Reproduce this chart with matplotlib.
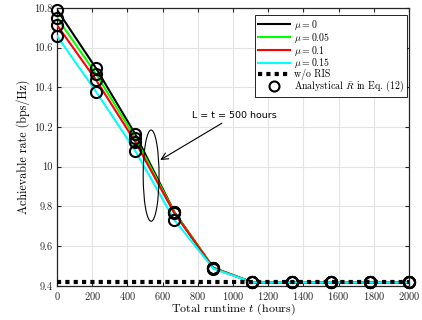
import matplotlib
matplotlib.use("Agg")
import matplotlib.pyplot as plt
from matplotlib.patches import Ellipse
import numpy as np

plt.rcParams['font.family'] = ['serif']
plt.rcParams['font.serif'] = ['cmr10', 'DejaVu Serif']
plt.rcParams['mathtext.fontset'] = 'cm'
plt.rcParams['axes.formatter.use_mathtext'] = True

# runtime samples (hours)
t_hours = [0, 222.2, 444.4, 666.7, 888.9, 1111.1, 1333.3, 1555.6, 1777.8, 2000]

# achievable rate for each aging factor mu
rate_mu0 = [10.791, 10.496, 10.165, 9.772, 9.491, 9.417, 9.417, 9.417, 9.417, 9.417]
rate_mu005 = [10.751, 10.467, 10.146, 9.770, 9.490, 9.417, 9.417, 9.417, 9.417, 9.417]
rate_mu01 = [10.714, 10.437, 10.126, 9.766, 9.489, 9.417, 9.417, 9.417, 9.417, 9.417]
rate_mu015 = [10.659, 10.378, 10.081, 9.732, 9.486, 9.417, 9.417, 9.417, 9.417, 9.417]

# baseline without RIS
rate_no_ris = 9.417

series = [
    (rate_mu0, 'black', r'$\mu = 0$'),
    (rate_mu005, '#00ff00', r'$\mu = 0.05$'),
    (rate_mu01, 'red', r'$\mu = 0.1$'),
    (rate_mu015, 'cyan', r'$\mu = 0.15$'),
]

fig = plt.figure(figsize=(4.22, 3.20), dpi=100)
ax = fig.add_axes([0.135, 0.107, 0.834, 0.868])

handles = []
for vals, color, label in series:
    h, = ax.plot(t_hours, vals, color=color, linewidth=1.5, label=label, zorder=3)
    handles.append(h)

h_base, = ax.plot([0, 2000], [rate_no_ris, rate_no_ris], color='black', linestyle=(0, (1, 1)),
                  linewidth=3, label='w/o RIS', zorder=4)
handles.append(h_base)

for vals, color, label in series:
    h_mark, = ax.plot(t_hours, vals, linestyle='none', marker='o', markersize=8,
                      markerfacecolor='none', markeredgecolor='black', markeredgewidth=1.5,
                      clip_on=False, zorder=5,
                      label=r'Analystical $\bar{R}$ in Eq. (12)')
handles.append(h_mark)

# highlight the L = t = 500 hours region
ell = Ellipse((535, 9.955), width=90, height=0.46, fill=False, edgecolor='black',
              linewidth=0.8, zorder=6)
ax.add_patch(ell)
ax.annotate('L = t = 500 hours', xy=(587, 10.034), xytext=(766, 10.256),
            fontsize=6.8, family='DejaVu Sans', va='center', ha='left',
            arrowprops=dict(arrowstyle='->', color='black', linewidth=0.8,
                            shrinkA=0, shrinkB=0, mutation_scale=12))

ax.set_xlim(0, 2000)
ax.set_ylim(9.4, 10.8)
ax.set_xticks(np.arange(0, 2001, 200))
ax.set_yticks(np.arange(9.4, 10.81, 0.2))
ax.set_yticklabels(['9.4', '9.6', '9.8', '10', '10.2', '10.4', '10.6', '10.8'])
ax.grid(True, color='#e3e3e3', linewidth=0.8)
ax.set_axisbelow(True)
ax.tick_params(direction='in', labelsize=7.5, length=3, top=True, right=True,
               colors='#262626', pad=3)
for sp in ax.spines.values():
    sp.set_color('#262626')
    sp.set_linewidth(0.9)

ax.set_xlabel(r'Total runtime $t$ (hours)', fontsize=8.6, labelpad=0)
ax.set_ylabel('Achievable rate (bps/Hz)', fontsize=8.7, labelpad=3)

leg = ax.legend(handles=handles, loc='upper right', bbox_to_anchor=(0.995, 0.975),
                fontsize=7.1, frameon=True, fancybox=False, framealpha=1,
                edgecolor='black', handlelength=3.3, borderaxespad=0,
                labelspacing=-0.12, borderpad=0.3, handletextpad=0.4,
                markerscale=0.9)
leg.get_frame().set_linewidth(0.6)

fig.savefig('out.png', dpi=100)
